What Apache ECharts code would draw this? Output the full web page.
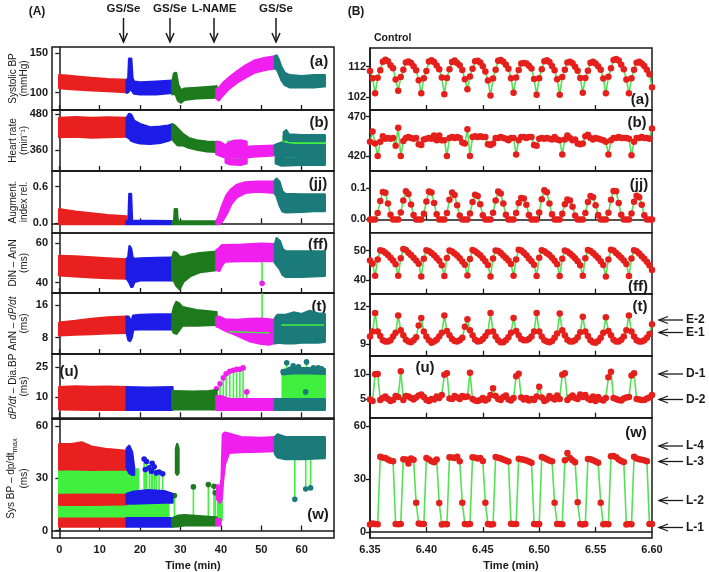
<!DOCTYPE html>
<html>
<head>
<meta charset="utf-8">
<script src="https://cdn.jsdelivr.net/npm/echarts@6/dist/echarts.min.js"></script>
<style>
html, body { margin: 0; padding: 0; background: #fff; }
#main { width: 709px; height: 572px; }
</style>
</head>
<body>
<div id="main"></div>
<script>
const sbpRed = [[0,122,106],[2,121.5,105],[5,120,104],[8,118.5,103],[12,117,102],[16.6,116,101]]
const sbpBlue = [[16.7,116,100],[17.1,118,101],[17.3,143,103],[17.8,143,105],[18.1,118,102],[18.5,114,99],[20,113,98],[24,114,98],[28,115,100]]
const sbpGreen = [[28,113,98],[28.4,124,99],[28.9,125,97],[29.4,110,90],[30.1,103,87.5],[31,105,91],[34,106,93],[38.9,108,94]]
const sbpMag = [[38.9,104,93],[39.5,106,90.5],[40.5,112,97],[42,119,105],[44,127,113],[46,134,119],[48.5,141,126],[51,144,129],[53.4,146,131]]
const sbpTeal = [[53.4,146,131],[53.8,147,130],[54.3,142,125],[55,132,116],[55.8,125,110],[57,122,107],[60,121,107],[63,122,107],[65.7,122,108]]

const hrRed = [[0,468,404],[4,470,405],[8,468,402],[12,469,404],[16.6,468,405]]
const hrBlue = [[16.7,468,405],[17.3,481,400],[17.8,478,392],[18.5,458,388],[20,447,383],[22.5,436,381],[25,438,384],[27,442,392],[28,446,398]]
const hrGreen = [[28,446,396],[28.5,443,388],[29.3,432,376],[30.5,415,377],[32,400,368],[34,392,362],[36.5,388,356],[38.9,386,354]]
const hrLime = [[41.8,388,314],[46.3,388,314]]
const hrMag = [[38.9,388,346],[40,385,340],[41,376,336],[46.5,370,336],[48,372,338],[53.4,374,342]]
const hrMagUp = [[41.5,380,372],[43,390,378],[45,392,379],[46.3,388,373]]
const hrMagLo = [[41.2,334,318],[42.5,327,312],[45,327,310],[46.3,330,316]]
const hrLime2 = [[55.5,405,318],[65.7,405,318]]
const hrTeal = [[53.4,376,345],[54,380,335],[55,385,330],[56,380,340],[58,376,341],[65.7,376,341]]
const hrTealUp = [[55.6,420,393],[56.2,426,398],[56.8,412,391],[60,410,390],[65.7,410,390]]
const hrTealLo = [[53.6,333,315],[55,331,308],[60,332,310],[65.7,333,310]]

const aixRed = [[0,0.23,-0.012],[1,0.22,-0.012],[4,0.19,-0.012],[8,0.16,-0.012],[12,0.13,-0.012],[16.6,0.11,-0.012]]
const aixBlue = [[16.7,0.035,-0.012],[17.15,0.04,-0.012],[17.35,0.48,-0.01],[17.75,0.48,-0.01],[18.0,0.04,-0.012],[28,0.035,-0.012]]
const aixGreen = [[28,0.03,-0.012],[28.45,0.04,-0.012],[28.6,0.23,-0.01],[29.1,0.23,-0.01],[29.3,0.03,-0.012],[38.9,0.03,-0.012]]
const aixMag = [[38.9,0.03,-0.012],[39.5,0.12,-0.012],[40.3,0.28,0.03],[41.4,0.46,0.15],[42.6,0.56,0.32],[44,0.63,0.43],[46,0.67,0.5],[49,0.68,0.52],[53.4,0.68,0.5]]
const aixTeal = [[53.4,0.7,0.48],[53.8,0.73,0.45],[54.5,0.68,0.3],[55.2,0.52,0.2],[56,0.48,0.18],[60,0.47,0.19],[63,0.47,0.2],[65.7,0.47,0.2]]

const dinRed = [[0,53.6,43.8],[4,53.3,43.3],[8,52.8,42.8],[12,52.3,42.4],[16.6,51.8,42.1]]
const dinBlue = [[16.7,52,42],[17.1,53,41],[17.4,58.5,40],[17.8,57,38],[18.1,53,38],[18.6,52,40.5],[20,52.3,41.3],[24,52.5,41.3],[28,52.6,41.3]]
const dinGreen = [[28,53,41.5],[28.4,55.5,41],[29,55,38.5],[29.8,53,36.8],[30.7,53,40.5],[32.5,54.2,43.5],[34.8,55,45.4],[38.9,55.7,46.4]]
const dinMag = [[38.9,56.5,46.5],[39.6,57.5,46],[40.3,59,49],[41,59,50.8],[45,59.2,51],[50,59.8,51],[53.4,59.5,51]]
const dinTeal = [[53.4,59.5,50],[53.8,62.5,49],[54.6,61,47],[55.3,57,44],[56,56,43],[60,55.8,43],[65.7,55.8,43.5]]
const dinSpike = [[50.2,51,39.7]]

const andRed = [[0,11.7,8.6],[4,12.1,8.8],[8,12.6,8.9],[12,13,9.1],[16.6,13.2,9.2]]
const andBlue = [[16.7,13.2,9.3],[17.1,13.2,7.5],[17.5,12.5,7.2],[17.9,12,8],[18.3,13.4,10],[20,13.6,10.1],[24,13.7,10.1],[28,13.7,10.1]]
const andGreen = [[28,13.8,10],[28.4,15.5,9.2],[29,16.8,9],[29.6,16.5,9.8],[30.5,15.5,11],[34,14.8,11],[38.9,14.3,11.2]]
const andMag = [[38.9,13,10.8],[39.5,13.2,10.6],[41,12.5,9.8],[44,12.4,8.6],[47,12.6,7.2],[50,12.7,6.5],[52,12.5,6.3],[53.4,12.3,6.8]]
const andTeal = [[53.4,12.8,6.6],[54,13.6,6.8],[56,13.6,6.6],[58,14.2,6.6],[60,13.8,6.8],[62,14.6,6.8],[64,14,6.8],[65.7,13.8,7]]
const andLimeM = [[42,9.5,9.45],[52,9.2,9.15]]
const andLimeT = [[55,11.15,11.1],[65.5,11.15,11.1]]
const andSpike = [[50.2,12.5,19]]

const ddRed = [[0,15,4],[4,15.4,3.9],[8,15.2,3.8],[12,15.3,3.9],[16.6,15,3.8]]
const ddBlue = [[16.7,15,3.8],[22,14.8,3.8],[28,15,3.8]]
const ddGreen = [[28,13,4],[33,12.8,4],[37,13,4],[38.9,13.5,4]]
const ddMag = [[38.9,10.5,3.8],[40,10.5,3.8],[42,9.2,3.8],[53.4,9,3.8]]
const ddMagDots = [[38.9,9,14.3],[39.8,9,16.8],[40.6,9,19.7],[41.3,9,21.8],[42.2,9,23],[43.1,9,23.5],[43.9,9,24],[44.7,9,24],[45.5,9,24.7],[46.4,9,12.7]]
const ddLime = [[55.3,9,20],[56,9,22],[65.7,9,22]]
const ddTeal = [[53.4,9,3.8],[65.7,9,3.8]]
const ddTealTop = [[55.2,23.5,21.5],[58,24.5,22],[62,24.5,22],[65.7,24,21.8]]
const ddTealDots = [[55.4,9,22.7],[56.3,9,27.3],[57.1,9,24],[57.9,9,25.7],[59.2,9,25.2],[61.2,9,27.7],[62.9,9,24.7],[64.1,9,24.7],[64.9,9,24.3],[61,9,12.7]]

const wLime = [[0,35,6],[16.7,35,6]]
const wLime2 = [[16.7,35,21],[19.5,35,21]]
const wLime3 = [[16.7,16,7],[27,16,7]]
const wLime4 = [[39.3,18,6],[40.2,18,6]]
const wRedTop = [[0,49.5,35],[3,49.5,35.2],[5.5,50.5,35],[8,48,34.8],[12,46.5,35],[16.6,45.5,35]]
const wRedMid = [[0,20.3,14.8],[8,20.5,14.8],[16.6,20.3,15]]
const wRedBot = [[0,6.8,2.3],[16.6,6.8,2.3]]
const wBlueTop = [[16.7,47,36],[17.3,48.5,33],[18,45,32],[18.5,36,32]]
const wBlueMid = [[16.7,21,15.5],[18,22,15.5],[22,23,15.8],[26,22.5,16],[28,21,16]]
const wBlueBot = [[16.7,7,2.3],[28,7,2.3]]
const wBlueDots = [[21,22,41],[21.6,22,39.5],[22.3,22,36],[23,22,38.5],[23.5,22,36.5],[24,22,33],[24.7,22,33.5],[25.6,22,32.5],[21.3,22,35],[22.8,22,34]]
const wGreenBot = [[28,7,2.3],[29.5,8.5,2.5],[31,8.8,3],[38.9,7.5,3]]
const wGreenCol = [[28.9,47,33],[29.2,49.5,32],[29.5,47,33]]
const wGreenDots = [[28.5,7,20],[33.2,7,25],[36.9,7,26.3],[38.3,7,25.3],[38.6,7,21.6]]
const wMagBot = [[38.9,6.5,3],[39.9,6.5,3]]
const wMag = [[39.1,26,18],[39.8,24,16],[40.2,30,18],[40.5,55,28],[41,56,38],[42,55.5,44.5],[45,53.5,45],[50,53,45.3],[53.4,53.5,45.5]]
const wTeal = [[53.4,53.5,44],[54,55,42],[56,53.5,41],[60,53.5,41],[65.7,53.5,41.5]]
const wTealDots = [[58.3,42,17.9],[61,42,23.8],[62.2,42,24.4]]

// ---- (B) control, one value per beat
const rSbp = [110.6, 108.2,
  103.3, 108.4, 110.8, 113.6, 114.3, 113.8, 112.5, 111.5, 107.8,
  104.1, 108.6, 111.0, 113.4, 113.7, 113.2, 112.1, 110.8, 107.6,
  103.3, 108.2, 110.6, 113.7, 114.1, 113.5, 112.4, 111.2, 108.5,
  103.0, 108.3, 111.2, 113.5, 114.0, 113.2, 112.5, 110.9, 107.9,
  104.6, 108.8, 111.3, 113.8, 113.9, 113.4, 112.1, 110.4, 107.5,
  102.6, 108.1, 111.0, 113.9, 114.2, 113.6, 112.6, 111.3, 108.2,
  103.5, 108.5, 110.9, 113.0, 113.2, 113.0, 112.3, 111.4, 108.0,
  102.8, 108.2, 111.2, 113.8, 114.1, 113.5, 112.2, 110.8, 107.9,
  102.8, 108.6, 111.0, 113.4, 113.6, 113.1, 112.0, 110.7, 108.3,
  103.5, 108.3, 110.7, 113.3, 113.6, 113.0, 112.1, 111.0, 108.1,
  103.3, 108.7, 111.5, 114.2, 114.5, 114.0, 112.6, 111.2, 107.8,
  103.3, 108.2, 111.0, 113.3, 113.6, 113.0, 112.2, 111.0, 109.5,
  105.3]
const rHr = [438, 451, 436, 420, 438, 445, 442, 443, 442, 443, 433, 456, 420, 439, 443, 444, 443, 442, 443, 435,
  434, 441, 442, 443, 442, 446, 440, 446, 440, 440, 420, 443, 444, 443, 444, 443, 437, 436, 454, 420,
  444, 445, 444, 445, 444, 444, 435, 434, 436, 443, 443, 444, 443, 442, 440, 443, 443, 422, 440, 444,
  444, 443, 444, 444, 434, 433, 442, 443, 442, 443, 442, 441, 444, 441, 440, 422, 441, 446, 443, 440,
  441, 436, 435, 436, 445, 447, 443, 441, 443, 442, 441, 440, 438, 422, 440, 443, 443, 444, 443, 443,
  443, 442, 421, 438, 443, 443, 444, 443, 443, 442, 455]
const rAix = [0, 0,
  0, 0.02, 0.058, 0.087, 0.084, 0.05, 0.015, 0, 0,
  0, 0.022, 0.06, 0.089, 0.08, 0.047, 0.014, 0, 0,
  0, 0.018, 0.057, 0.088, 0.085, 0.052, 0.016, 0, 0,
  0, 0.02, 0.062, 0.085, 0.077, 0.045, 0.012, 0, 0,
  0, 0.019, 0.055, 0.078, 0.074, 0.048, 0.013, 0, 0,
  0, 0.021, 0.06, 0.088, 0.082, 0.05, 0.015, 0, 0,
  0, 0.02, 0.052, 0.068, 0.066, 0.046, 0.014, 0, 0,
  0, 0.022, 0.064, 0.092, 0.086, 0.05, 0.016, 0, 0,
  0, 0.018, 0.048, 0.063, 0.06, 0.04, 0.012, 0, 0,
  0, 0.02, 0.055, 0.074, 0.07, 0.045, 0.014, 0, 0,
  0, 0.021, 0.062, 0.09, 0.089, 0.052, 0.015, 0, 0,
  0, 0.019, 0.056, 0.075, 0.07, 0.046, 0.013, 0, 0,
  0]
const rDin = [46.6, 45.5,
  41.4, 47.0, 50.1, 49.9, 49.3, 48.5, 47.6, 46.6, 45.3,
  41.4, 47.4, 50.5, 50.2, 49.3, 48.5, 47.6, 46.6, 45.5,
  41.2, 47.2, 50.1, 49.8, 49.2, 48.4, 47.5, 46.5, 45.0,
  41.3, 47.5, 50.0, 49.7, 49.0, 48.3, 47.4, 46.3, 45.2,
  41.5, 47.1, 50.2, 49.8, 49.1, 48.4, 47.4, 46.4, 45.1,
  41.2, 47.3, 50.0, 49.9, 49.2, 48.3, 47.5, 46.6, 45.4,
  41.4, 47.0, 50.3, 50.0, 49.3, 48.4, 47.3, 46.4, 45.2,
  41.3, 47.6, 50.1, 49.8, 49.1, 48.5, 47.6, 46.5, 45.3,
  41.3, 47.2, 50.0, 49.7, 49.0, 48.2, 47.4, 46.4, 45.0,
  41.4, 47.4, 50.2, 49.9, 49.2, 48.3, 47.5, 46.4, 45.1,
  41.2, 47.0, 50.3, 50.0, 49.2, 48.4, 47.6, 46.6, 45.4,
  41.3, 47.3, 50.1, 49.8, 49.0, 48.1, 47.2, 46.2, 45.0,
  43.4]
const rAnn = [9.6, 10.0,
  11.5, 10.0, 9.65, 9.3, 9.2, 9.2, 9.3, 9.6, 9.9,
  11.3, 10.1, 9.7, 9.35, 9.2, 9.15, 9.3, 9.55, 10.5,
  11.1, 10.0, 9.6, 9.3, 9.1, 9.2, 9.35, 9.6, 9.9,
  11.3, 10.05, 9.7, 9.4, 9.25, 9.2, 9.3, 9.5, 10.4,
  11.0, 10.1, 9.7, 9.35, 9.2, 9.25, 9.4, 9.65, 9.95,
  11.5, 10.0, 9.6, 9.3, 9.15, 9.15, 9.3, 9.55, 9.9,
  11.1, 10.05, 9.7, 9.4, 9.3, 9.3, 9.4, 9.6, 10.0,
  11.5, 10.0, 9.6, 9.3, 9.2, 9.15, 9.25, 9.5, 9.85,
  11.45, 10.1, 9.7, 9.35, 9.2, 9.2, 9.3, 9.55, 9.95,
  11.2, 10.0, 9.65, 9.3, 9.15, 9.1, 9.25, 9.5, 9.9,
  11.15, 10.05, 9.7, 9.35, 9.2, 9.2, 9.35, 9.6, 10.1,
  11.3, 10.0, 9.6, 9.3, 9.2, 9.2, 9.3, 9.5, 9.8,
  10.6]
const rDd = [4.9, 4.6, 10.0, 10.05, 4.8, 5.2, 5.5, 5.0, 4.6, 4.8, 5.6, 5.4, 10.6, 4.8, 5.6, 5.5, 5.2, 4.9, 5.3, 5.7,
  5.9, 5.4, 4.8, 4.6, 5.0, 4.9, 5.5, 5.2, 5.8, 9.9, 10.2, 5.1, 5.0, 5.6, 5.3, 5.0, 5.6, 5.4, 5.5, 10.3,
  5.0, 4.7, 4.6, 4.8, 5.2, 4.7, 5.0, 5.8, 7.2, 5.6, 5.0, 4.8, 5.4, 5.7, 4.9, 4.7, 5.2, 9.6, 10.1, 5.3,
  4.9, 5.2, 4.7, 5.0, 4.8, 5.5, 7.5, 5.3, 4.6, 4.9, 5.6, 5.2, 4.9, 5.7, 5.0, 9.9, 10.2, 4.8, 5.3, 5.7,
  5.2, 5.0, 5.9, 5.4, 5.8, 5.1, 4.8, 5.5, 4.6, 5.4, 4.9, 4.7, 5.2, 9.4, 10.5, 5.2, 5.0, 4.8, 4.7, 5.1,
  5.3, 5.4, 9.75, 10.2, 5.0, 4.9, 4.8, 4.8, 5.1, 5.3, 5.8]
const rSys = [4.3, 4.8, 4.6, 4.4, 42.6, 42.0, 41.8, 41.0, 40.3, 40.0,
  4.5, 4.4, 4.6, 41.2, 41.0, 38.8, 41.5, 40.8, 16.5,
  4.8, 4.5, 4.6, 41.9, 41.0, 40.0, 39.5, 41.0, 16.4,
  4.3, 4.5, 4.4, 42.3, 42.1, 41.8, 42.5, 40.0, 16.5,
  4.6, 4.4, 4.5, 42.2, 42.0, 41.6, 41.8, 40.2, 16.5,
  4.5, 4.3, 4.4, 42.4, 42.0, 41.6, 41.0, 40.4, 39.8,
  4.7, 4.5, 4.6, 41.4, 41.2, 40.8, 40.4, 39.8, 39.2,
  4.5, 4.4, 4.6, 42.4, 41.8, 41.1, 40.4, 40.0, 16.5,
  4.6, 4.5, 4.4, 40.5, 44.7, 41.8, 40.6, 39.5, 16.8,
  4.5, 4.3, 4.6, 41.3, 41.2, 40.6, 39.8, 39.1, 16.6,
  4.4, 4.6, 4.4, 42.8, 43.0, 42.2, 41.0, 40.2, 39.6,
  4.3, 4.5, 4.4, 42.5, 41.6, 41.2, 40.8, 40.5, 40.0,
  4.5, 4.6]
const beatTimes = rSbp.map((_, i) => 6.35 + i * 0.25 / 110)

const timeTicksA = [0, 10, 20, 30, 40, 50, 60]
const timeTicksB = [6.35, 6.40, 6.45, 6.50, 6.55, 6.60]

const RED = '#e8201f', BLUE = '#1c1ce6', DGREEN = '#1d7a1d', MAG = '#f01ff0', TEAL = '#1b7a7a', LIME = '#3ff03f'
const DOT = '#e5201c', LINE = '#55e055', INK = '#1a1a1a'
const FONT = "'Liberation Sans', Arial, sans-serif"

const leftPanels = [
  { top: 47, h: 63, min: 78, max: 158, ticks: [100, 150], name: 'Systolic BP\n(mmHg)',
    layers: [[sbpRed, RED], [sbpBlue, BLUE], [sbpGreen, DGREEN], [sbpMag, MAG], [sbpTeal, TEAL]] },
  { top: 110, h: 61, min: 289.4, max: 494.5, ticks: [360, 480], name: 'Heart rate\n(min⁻¹)',
    under: [[hrLime, LIME], [hrLime2, LIME]],
    layers: [[hrRed, RED], [hrBlue, BLUE], [hrGreen, DGREEN], [hrMag, MAG], [hrMagUp, MAG], [hrMagLo, MAG], [hrTeal, TEAL], [hrTealUp, TEAL], [hrTealLo, TEAL]] },
  { top: 171, h: 62, min: -0.159, max: 0.857, ticks: [0, 0.6], dec: 1, name: 'Augment.\nindex rel.',
    layers: [[aixRed, RED], [aixBlue, BLUE], [aixGreen, DGREEN], [aixMag, MAG], [aixTeal, TEAL]] },
  { top: 233, h: 60, min: 34.8, max: 65.2, ticks: [40, 60], name: 'DiN – AnN\n(ms)',
    spikes: [[dinSpike, MAG]],
    layers: [[dinRed, RED], [dinBlue, BLUE], [dinGreen, DGREEN], [dinMag, MAG], [dinTeal, TEAL]] },
  { top: 293, h: 61, min: 3.97, max: 19.04, ticks: [8, 16], name: 'AnN – {i|dP/dt}\n(ms)',
    spikes: [[andSpike, null]],
    layers: [[andRed, RED], [andBlue, BLUE], [andGreen, DGREEN], [andMag, MAG], [andTeal, TEAL]],
    thin: [[andLimeM, LIME], [andLimeT, LIME]] },
  { top: 354, h: 65, min: -0.85, max: 31.65, ticks: [10, 25], name: '{i|dP/dt} – Dia.BP\n(ms)',
    under: [[ddLime, LIME]],
    spikes: [[ddMagDots, MAG], [ddTealDots, TEAL]],
    layers: [[ddRed, RED], [ddBlue, BLUE], [ddGreen, DGREEN], [ddMag, MAG], [ddTeal, TEAL], [ddTealTop, TEAL]] },
  { top: 419, h: 122, min: -4.3, max: 63.9, ticks: [0, 30, 60], name: 'Sys BP – dp/dt{sub|max}\n(ms)',
    under: [[wLime, LIME], [wLime2, LIME], [wLime3, LIME], [wLime4, LIME]],
    spikes: [[wBlueDots, BLUE], [wGreenDots, DGREEN], [wTealDots, TEAL]],
    layers: [[wRedTop, RED], [wRedMid, RED], [wRedBot, RED], [wBlueTop, BLUE], [wBlueMid, BLUE], [wBlueBot, BLUE],
      [wGreenBot, DGREEN], [wGreenCol, DGREEN], [wMagBot, MAG], [wMag, MAG], [wTeal, TEAL]] }
]

const rightPanels = [
  { top: 48, h: 62, min: 97.85, max: 118.1, ticks: [102, 112], values: rSbp },
  { top: 110, h: 61, min: 400.9, max: 478.5, ticks: [420, 470], values: rHr },
  { top: 171, h: 61.7, min: -0.042, max: 0.153, ticks: [0, 0.1], dec: 1, values: rAix },
  { top: 232.7, h: 61, min: 35.3, max: 56.1, ticks: [40, 50], values: rDin },
  { top: 293.7, h: 62, min: 8.06, max: 13.05, ticks: [9, 12], values: rAnn },
  { top: 355.7, h: 62, min: 1.21, max: 13.77, ticks: [5, 10], values: rDd },
  { top: 417.7, h: 121.6, min: -3.35, max: 64.6, ticks: [0, 30, 60], values: rSys }
]

const grids = [], xAxes = [], yAxes = [], series = []

function axisPair(p, i, left, isBottom, isLeftCol) {
  grids.push({ left: left, top: p.top, width: 282, height: p.h, show: true, borderColor: INK, borderWidth: 1.5 })
  const xt = isLeftCol ? timeTicksA : timeTicksB
  xAxes.push({
    type: 'value', gridIndex: i, min: isLeftCol ? -1.8 : 6.35, max: isLeftCol ? 68 : 6.60,
    splitLine: { show: false },
    axisLine: { show: true, lineStyle: { color: INK, width: 1.5 } },
    axisTick: { inside: true, length: 5, customValues: xt.filter(v => isLeftCol || (v > 6.36 && v < 6.59)), lineStyle: { color: INK, width: 1.3 } },
    axisLabel: { show: isBottom, customValues: xt, fontFamily: FONT, fontSize: 11, fontWeight: 'bold', color: INK, margin: 6,
      formatter: v => isLeftCol ? String(v) : v.toFixed(2) },
    name: isBottom ? 'Time (min)' : '', nameLocation: 'middle', nameGap: 22,
    nameTextStyle: { fontFamily: FONT, fontSize: 11, fontWeight: 'bold', color: INK }
  })
  yAxes.push({
    type: 'value', gridIndex: i, min: p.min, max: p.max,
    splitLine: { show: false },
    axisLine: { show: true, lineStyle: { color: INK, width: 1.5 } },
    axisTick: { length: 4, customValues: p.ticks, lineStyle: { color: INK, width: 1.3 } },
    axisLabel: { customValues: p.ticks, fontFamily: FONT, fontSize: 11, fontWeight: 'bold', color: INK, margin: 4,
      formatter: v => p.dec ? v.toFixed(p.dec) : String(v) },
    name: p.name || '', nameLocation: 'middle', nameRotate: 90, nameGap: 22, nameMoveOverlap: false,
    nameTextStyle: { fontFamily: FONT, fontSize: 10, color: INK, lineHeight: 11,
      rich: {
        i: { fontFamily: FONT, fontSize: 10, fontStyle: 'italic', color: INK, lineHeight: 11 },
        sub: { fontFamily: FONT, fontSize: 7.5, color: INK, verticalAlign: 'bottom', lineHeight: 15, padding: [6, 0, 0, 0] }
      } }
  })
}

function band(i, data, color, width) {
  return {
    type: 'custom', xAxisIndex: i, yAxisIndex: i, data: data, silent: true, clip: true,
    renderItem: (params, api) => {
      if (params.dataIndex !== 0) return null
      const upper = data.map(d => api.coord([d[0], d[1]]))
      const lower = data.slice().reverse().map(d => api.coord([d[0], d[2]]))
      return { type: 'polygon', shape: { points: upper.concat(lower) },
        style: { fill: color, stroke: color, lineWidth: width == null ? 2.5 : width, lineJoin: 'round' } }
    }
  }
}

function spikes(i, data, dotColor) {
  return {
    type: 'custom', xAxisIndex: i, yAxisIndex: i, data: data, silent: true, clip: true,
    renderItem: (params, api) => {
      const a = api.coord([api.value(0), api.value(1)])
      const b = api.coord([api.value(0), api.value(2)])
      const kids = [{ type: 'line', shape: { x1: a[0], y1: a[1], x2: b[0], y2: b[1] }, style: { stroke: LIME, lineWidth: 1.6 } }]
      if (dotColor) kids.push({ type: 'circle', shape: { cx: b[0], cy: b[1], r: 2.8 }, style: { fill: dotColor } })
      return { type: 'group', children: kids }
    }
  }
}

leftPanels.forEach((p, i) => {
  axisPair(p, i, 52, i === 6, true)
  ;(p.under || []).forEach(([d, c]) => series.push(band(i, d, c)))
  ;(p.spikes || []).forEach(([d, c]) => series.push(spikes(i, d, c)))
  p.layers.forEach(([d, c]) => series.push(band(i, d, c)))
  ;(p.thin || []).forEach(([d, c]) => series.push(band(i, d, c, 1)))
})

rightPanels.forEach((p, k) => {
  const i = k + 7
  axisPair(p, i, 370, k === 6, false)
  series.push({
    type: 'line', xAxisIndex: i, yAxisIndex: i, silent: true,
    data: p.values.map((v, j) => [beatTimes[j], v]),
    symbol: 'circle', symbolSize: 6.5, showSymbol: true,
    itemStyle: { color: DOT, borderWidth: 0 },
    lineStyle: { color: LINE, width: 1.6 }
  })
})

// annotations
const txt = (x, y, s, size, align, weight) => ({
  type: 'text', x: x, y: y,
  style: { text: s, fontFamily: FONT, fontSize: size, fontWeight: weight || 'bold', fill: INK, align: align || 'center', verticalAlign: 'middle' }
})
const graphic = []
graphic.push(txt(37, 12, '(A)', 12))
graphic.push(txt(356, 12, '(B)', 12))
graphic.push(txt(374, 38, 'Control', 10.5, 'left'))
;[[123.5, 'GS/Se'], [170, 'GS/Se'], [214, 'L-NAME'], [276, 'GS/Se']].forEach(([x, s]) => {
  graphic.push(txt(x, 8.5, s, 11.5))
  graphic.push({ type: 'line', shape: { x1: x, y1: 18, x2: x, y2: 42 }, style: { stroke: INK, lineWidth: 1.5 } })
  graphic.push({ type: 'polyline', shape: { points: [[x - 4, 33], [x, 42], [x + 4, 33]] }, style: { stroke: INK, lineWidth: 1.5, fill: null } })
})
;[['(a)', 319, 62], ['(b)', 319, 123], ['(jj)', 318, 184], ['(ff)', 318, 245], ['(t)', 319, 307], ['(u)', 69, 372], ['(w)', 318, 515],
  ['(a)', 640, 100], ['(b)', 637, 123], ['(jj)', 639, 185], ['(ff)', 638, 287], ['(t)', 640, 307], ['(u)', 425, 368], ['(w)', 636, 433]
].forEach(([s, x, y]) => graphic.push(txt(x, y, s, 15)))
;[['E-2', 320], ['E-1', 332.5], ['D-1', 374], ['D-2', 399.5], ['L-4', 446], ['L-3', 461.5], ['L-2', 500.5], ['L-1', 527.5]].forEach(([s, y]) => {
  graphic.push({ type: 'line', shape: { x1: 659, y1: y, x2: 683, y2: y }, style: { stroke: INK, lineWidth: 1.3 } })
  graphic.push({ type: 'polyline', shape: { points: [[668, y - 3.5], [659, y], [668, y + 3.5]] }, style: { stroke: INK, lineWidth: 1.3, fill: null } })
  graphic.push(txt(686, y, s, 12, 'left'))
})

const chart = echarts.init(document.getElementById('main'))
chart.setOption({
  animation: false,
  backgroundColor: '#fff',
  grid: grids, xAxis: xAxes, yAxis: yAxes, series: series,
  graphic: graphic
})
</script>
</body>
</html>
